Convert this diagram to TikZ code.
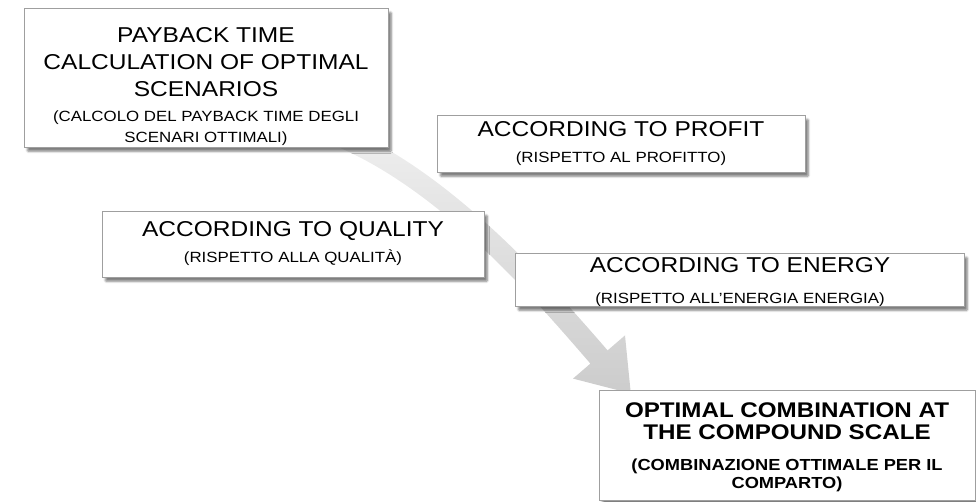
\documentclass[tikz,border=0pt]{standalone}
\usepackage{fontspec}
\setmainfont{Liberation Sans}[FakeStretch=1.14]
\usetikzlibrary{shadows.blur}
\tikzset{
  box/.style={draw=gray!75, line width=0.7pt, fill=white, rectangle, inner sep=0pt,
    blur shadow={shadow xshift=3pt, shadow yshift=-4pt, shadow blur steps=6, shadow blur extra rounding=1pt, shadow opacity=50}},
  ttl/.style={anchor=base, inner sep=0pt, font=\fontsize{21.5}{26}\selectfont},
  sub/.style={anchor=base, inner sep=0pt, font=\fontsize{14.8}{20}\selectfont},
  bttl/.style={anchor=base, inner sep=0pt, font=\fontsize{21.2}{24}\selectfont\bfseries},
  bsub/.style={anchor=base, inner sep=0pt, font=\fontsize{16}{20}\selectfont\bfseries},
}
\newcommand{\boxat}[5]{\node[box, minimum width=#4pt, minimum height=#5pt, anchor=north west] (#1) at (#2,#3) {};}
\begin{document}
\begin{tikzpicture}[x=1pt,y=-1pt]
\useasboundingbox (0,0) rectangle (976,502);
% curved arrow
\shade[top color=gray!12, bottom color=gray!40]
  (336.6,124.7) .. controls (446.6,166.7) and (549.6,283.4) .. (607.6,350.4)
  -- (625,335.4) -- (630.8,393.5) -- (573,378.6) -- (590.4,363.6)
  .. controls (532.4,296.6) and (436.4,184.3) .. (326.4,142.3) -- cycle;
% boxes
\boxat{b1}{24}{8}{364}{139}
\boxat{b2}{437}{115}{368}{57}
\boxat{b3}{102}{211}{382}{66}
\boxat{b4}{515}{253}{449}{53}
\boxat{b5}{599}{390}{376}{110}
% texts
\node[ttl] (b1a) at (206,43) {PAYBACK TIME};
\node[ttl] (b1b) at (206,70) {CALCULATION OF OPTIMAL};
\node[ttl] (b1c) at (206,97) {SCENARIOS};
\node[sub] (b1d) at (206,122) {(CALCOLO DEL PAYBACK TIME DEGLI};
\node[sub] (b1e) at (206,143) {SCENARI OTTIMALI)};
\node[ttl] (b2a) at (621,137) {ACCORDING TO PROFIT};
\node[sub] (b2b) at (621,163) {(RISPETTO AL PROFITTO)};
\node[ttl] (b3a) at (293,236.5) {ACCORDING TO QUALITY};
\node[sub] (b3b) at (293,263) {(RISPETTO ALLA QUALITÀ)};
\node[ttl] (b4a) at (740,273) {ACCORDING TO ENERGY};
\node[sub] (b4b) at (740,303) {(RISPETTO ALL’ENERGIA ENERGIA)};
\node[bttl] (b5a) at (787,417) {OPTIMAL COMBINATION AT};
\node[bttl] (b5b) at (787,439) {THE COMPOUND SCALE};
\node[bsub] (b5c) at (787,470) {(COMBINAZIONE OTTIMALE PER IL};
\node[bsub] (b5d) at (787,488) {COMPARTO)};
\end{tikzpicture}
\end{document}
